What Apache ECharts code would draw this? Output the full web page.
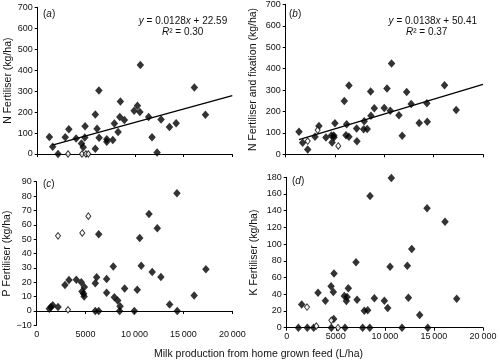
<!DOCTYPE html>
<html><head><meta charset="utf-8">
<script src="https://cdn.jsdelivr.net/npm/echarts@6/dist/echarts.min.js"></script>
<style>html,body{margin:0;padding:0;background:#fff}#c{width:500px;height:361px}</style>
</head><body><div id="c"></div>
<script>
const xTickLabels = ['0', '5000', '10\u2009000', '15\u2009000', '20\u2009000'];
const yNames = ['N Fertiliser (kg/ha)', 'N Fertiliser and fixation (kg/ha)', 'P Fertiliser (kg/ha)', 'K Fertiliser (kg/ha)'];
const panelLetters = ['a', 'b', 'c', 'd'];
const xTitle = 'Milk production from home grown feed (L/ha)';

const aFilled = [[1200,81],[1540,34],[2090,0],[2830,80],[3200,118],[3950,74],[4500,50],[4680,32],[4840,79],[4870,133],[5920,189],[6290,303],[6100,120],[5920,25],[6310,78],[7100,70],[7100,58],[7720,67],[7880,146],[8260,105],[8440,176],[8500,250],[8910,162],[9910,206],[10250,230],[10500,201],[10550,425],[11400,176],[12680,165],[11750,80],[12270,7],[13540,129],[14230,147],[16100,317],[17240,187]];
const aOpen = [[3120,0],[4550,0],[4950,0],[5200,0]];
const aTrend = [[1500,41.8],[20000,278.6]];

const bFilled = [[1350,105],[1720,54],[2230,23],[2970,82],[3370,132],[4080,79],[4630,88],[4870,88],[4700,55],[4900,80],[4990,145],[5940,249],[6410,322],[6180,140],[6110,89],[6410,82],[7190,121],[7220,61],[7900,117],[8260,118],[7960,155],[8640,180],[8610,293],[8980,215],[9990,216],[10270,307],[10600,203],[10730,424],[11480,183],[12260,291],[12720,235],[11810,87],[13530,146],[14350,152],[14310,239],[16100,323],[17280,207]];
const bOpen = [[2230,62],[3240,113],[5330,39]];
const bTrend = [[1350,69],[20000,326.4]];

const cFilled = [[1290,1.5],[1460,2.8],[1640,4],[2180,2.7],[2890,18],[3300,21.6],[4050,21.8],[4560,20],[4630,13.5],[4800,12],[4850,10],[4870,16.7],[5990,19.3],[6130,23.4],[5990,0],[6340,0],[6340,53.4],[7150,22.3],[7150,12.7],[7830,31],[7940,9.5],[8280,7.2],[8520,3.3],[8480,0],[8990,15.6],[9980,0],[10280,14.8],[10530,50.8],[10690,31.5],[11480,67.5],[11810,27.1],[12330,57.5],[12700,23.7],[13590,4.4],[14340,81.9],[14370,0],[16100,10.8],[17300,29]];
const cOpen = [[2180,52.3],[3200,0.8],[4660,54.3],[5280,66]];

const dFilled = [[1530,27.9],[1190,0],[2100,0],[2750,0],[3190,41.9],[3940,32.3],[4520,49.5],[4820,65],[4750,42.7],[4790,10.4],[4550,0],[5870,37.9],[6080,32],[6150,36.7],[6280,47.1],[5940,0],[7060,78.2],[7170,33.5],[7740,0],[7910,20.4],[8250,20.8],[8490,157.6],[8460,0],[8930,35.1],[9950,32.3],[10290,23.5],[10530,73],[10660,179.2],[11750,0],[12290,74.2],[12400,35.9],[12740,94.2],[13550,15.2],[14300,142.9],[14370,0],[16130,126.9],[17320,34.7]];
const dOpen = [[2070,24.7],[3020,2],[4550,8.8],[5230,0]];

const eqA = ['0.0128', '22.59', '0.30'];
const eqB = ['0.0138', '50.41', '0.37'];

const FONT = '"Liberation Sans", Arial, Helvetica, sans-serif';
const grids = [
  {left: 37.7, top: 7.3, width: 194.6, height: 146.7},
  {left: 285.7, top: 4.3, width: 197.3, height: 150},
  {left: 36.7, top: 181.7, width: 195.6, height: 143.6},
  {left: 286.7, top: 177.3, width: 196.3, height: 150.4}
];
const yRanges = [[0,700,100],[0,700,100],[-10,90,10],[0,180,20]];
const nameGaps = [19, 27, 22, 27];

const axisLine = {show: true, lineStyle: {color: '#000', width: 1}};
const axisTick = {show: true, length: 3, inside: false, lineStyle: {color: '#000', width: 1}};

const xAxes = grids.map((g, i) => ({
  type: 'value', gridIndex: i, min: 0, max: 20000, interval: 5000,
  axisLine, axisTick, splitLine: {show: false},
  axisLabel: {show: i >= 2, fontFamily: FONT, fontSize: 9, color: '#111', margin: i === 2 ? 5 : 4,
    formatter: v => xTickLabels[Math.round(v / 5000)]}
}));
const yAxes = grids.map((g, i) => ({
  type: 'value', gridIndex: i, min: yRanges[i][0], max: yRanges[i][1], interval: yRanges[i][2],
  axisLine, axisTick, splitLine: {show: false},
  axisLabel: {fontFamily: FONT, fontSize: 9, color: '#111', margin: 5,
    formatter: v => v < 0 ? '\u2212' + Math.abs(v) : String(v)},
  name: yNames[i], nameLocation: 'middle', nameGap: nameGaps[i],
  nameTextStyle: {fontFamily: FONT, fontSize: 10.5, color: '#111'}
}));

function filled(data, i) {
  return {type: 'scatter', xAxisIndex: i, yAxisIndex: i, data, symbol: 'diamond', symbolSize: [7.5, 8.5],
    clip: false, itemStyle: {color: '#000'}, z: 3, animation: false};
}
function open(data, i) {
  return {type: 'scatter', xAxisIndex: i, yAxisIndex: i, data, symbol: 'diamond', symbolSize: [5, 6.5],
    clip: false, itemStyle: {color: '#fff', borderColor: '#000', borderWidth: 1}, z: 4, animation: false};
}
function trend(data, i) {
  return {type: 'line', xAxisIndex: i, yAxisIndex: i, data, symbol: 'none',
    lineStyle: {color: '#000', width: 1.3}, z: 2, animation: false};
}

const rich = {i: {fontStyle: 'italic', fontFamily: FONT, fontSize: 10, color: '#111'},
              n: {fontFamily: FONT, fontSize: 10, color: '#111'}};
function rt(text, x, y, align) {
  return {type: 'text', x, y, style: {text, rich, textAlign: align || 'center', textVerticalAlign: 'middle',
    font: '10px ' + FONT, fill: '#111'}, z: 10};
}
const graphics = [
  rt('{n|(}{i|' + panelLetters[0] + '}{n|)}', 43, 14, 'left'),
  rt('{n|(}{i|' + panelLetters[1] + '}{n|)}', 289, 14.3, 'left'),
  rt('{n|(}{i|' + panelLetters[2] + '}{n|)}', 43, 184, 'left'),
  rt('{n|(}{i|' + panelLetters[3] + '}{n|)}', 292, 181.7, 'left'),
  rt('{i|y}{n| = ' + eqA[0] + '}{i|x}{n| + ' + eqA[1] + '}', 183, 21.3),
  rt('{i|R}{n|\u00b2 = ' + eqA[2] + '}', 182.7, 32.3),
  rt('{i|y}{n| = ' + eqB[0] + '}{i|x}{n| + ' + eqB[1] + '}', 432.8, 21.3),
  rt('{i|R}{n|\u00b2 = ' + eqB[2] + '}', 426.7, 32.3),
  {type: 'text', x: 258.5, y: 353.7, style: {text: xTitle, font: '10.5px ' + FONT, fill: '#111',
    textAlign: 'center', textVerticalAlign: 'middle'}}
];

const chart = echarts.init(document.getElementById('c'), null, {renderer: 'canvas'});
chart.setOption({
  animation: false,
  backgroundColor: '#fff',
  grid: grids,
  xAxis: xAxes,
  yAxis: yAxes,
  series: [
    trend(aTrend, 0), filled(aFilled, 0), open(aOpen, 0),
    trend(bTrend, 1), filled(bFilled, 1), open(bOpen, 1),
    filled(cFilled, 2), open(cOpen, 2),
    filled(dFilled, 3), open(dOpen, 3)
  ],
  graphic: graphics
});
</script></body></html>
